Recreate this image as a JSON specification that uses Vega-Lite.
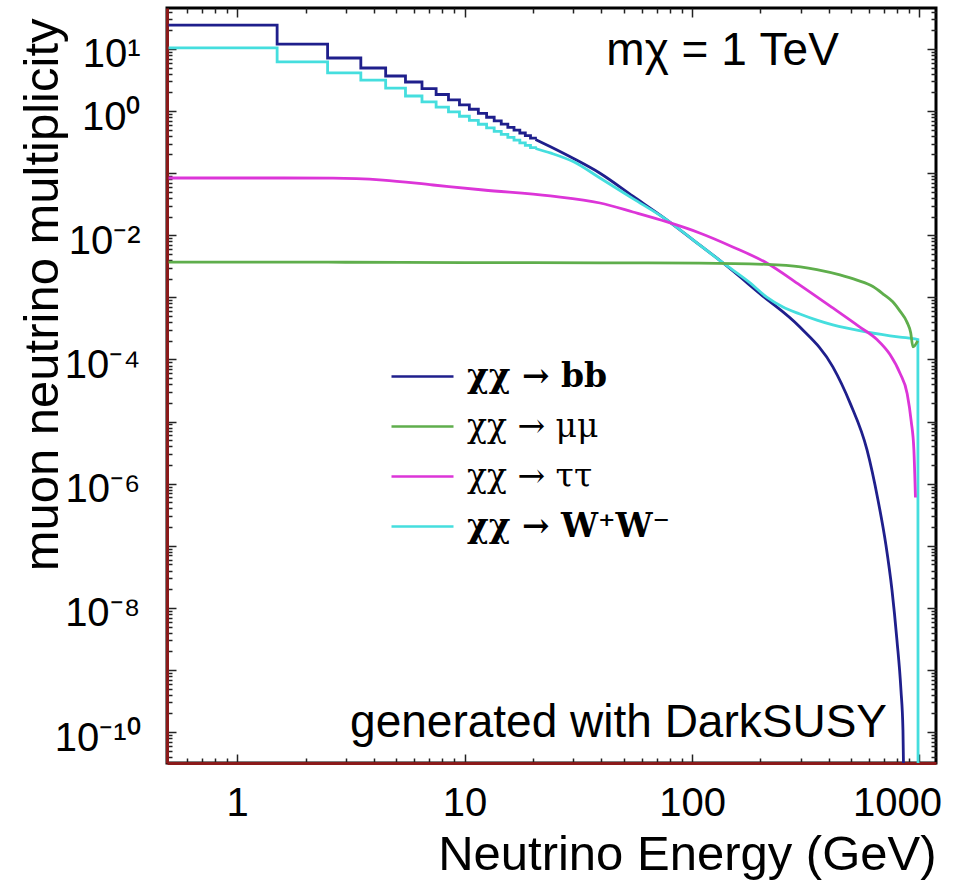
{
  "$schema": "https://vega.github.io/schema/vega-lite/v6.json",
  "width": 769,
  "height": 755,
  "autosize": "none",
  "padding": {"left": 167, "top": 8, "right": 21, "bottom": 117},
  "background": "white",
  "config": {"view": {"stroke": "#000000", "strokeWidth": 3}, "axis": {"grid": false}},
  "datasets": {
    "steps": [
      {"ch": "bb", "E": 0.5, "v": 24.3}, {"ch": "bb", "E": 1.5, "v": 12.0}, {"ch": "bb", "E": 2.5, "v": 7.16},
      {"ch": "bb", "E": 3.5, "v": 4.94}, {"ch": "bb", "E": 4.5, "v": 3.67}, {"ch": "bb", "E": 5.5, "v": 2.94},
      {"ch": "bb", "E": 6.5, "v": 2.30}, {"ch": "bb", "E": 7.5, "v": 1.85}, {"ch": "bb", "E": 8.5, "v": 1.51},
      {"ch": "bb", "E": 9.5, "v": 1.26}, {"ch": "bb", "E": 10.5, "v": 1.07}, {"ch": "bb", "E": 11.5, "v": 0.918},
      {"ch": "bb", "E": 12.5, "v": 0.796}, {"ch": "bb", "E": 13.5, "v": 0.697}, {"ch": "bb", "E": 14.5, "v": 0.615},
      {"ch": "bb", "E": 15.5, "v": 0.548}, {"ch": "bb", "E": 16.5, "v": 0.492}, {"ch": "bb", "E": 17.5, "v": 0.444},
      {"ch": "bb", "E": 18.5, "v": 0.402}, {"ch": "bb", "E": 19.5, "v": 0.366}, {"ch": "bb", "E": 20.5, "v": 0.35},
      {"ch": "WW", "E": 0.5, "v": 10.4}, {"ch": "WW", "E": 1.5, "v": 6.18}, {"ch": "WW", "E": 2.5, "v": 4.11},
      {"ch": "WW", "E": 3.5, "v": 3.16}, {"ch": "WW", "E": 4.5, "v": 2.35}, {"ch": "WW", "E": 5.5, "v": 1.75},
      {"ch": "WW", "E": 6.5, "v": 1.41}, {"ch": "WW", "E": 7.5, "v": 1.16}, {"ch": "WW", "E": 8.5, "v": 0.973},
      {"ch": "WW", "E": 9.5, "v": 0.826}, {"ch": "WW", "E": 10.5, "v": 0.71}, {"ch": "WW", "E": 11.5, "v": 0.614},
      {"ch": "WW", "E": 12.5, "v": 0.535}, {"ch": "WW", "E": 13.5, "v": 0.473}, {"ch": "WW", "E": 14.5, "v": 0.421},
      {"ch": "WW", "E": 15.5, "v": 0.377}, {"ch": "WW", "E": 16.5, "v": 0.34}, {"ch": "WW", "E": 17.5, "v": 0.308},
      {"ch": "WW", "E": 18.5, "v": 0.281}, {"ch": "WW", "E": 19.5, "v": 0.258}, {"ch": "WW", "E": 20.5, "v": 0.25}
    ],
    "curves": [
      {"ch": "bb", "E": 20.5, "v": 0.35}, {"ch": "bb", "E": 24, "v": 0.264}, {"ch": "bb", "E": 30, "v": 0.174},
      {"ch": "bb", "E": 39.4, "v": 0.1}, {"ch": "bb", "E": 55, "v": 0.0426}, {"ch": "bb", "E": 77.7, "v": 0.0176},
      {"ch": "bb", "E": 100, "v": 0.0087}, {"ch": "bb", "E": 137, "v": 0.00358}, {"ch": "bb", "E": 200, "v": 0.00113},
      {"ch": "bb", "E": 298, "v": 0.000333}, {"ch": "bb", "E": 416, "v": 0.000076}, {"ch": "bb", "E": 495, "v": 0.00002},
      {"ch": "bb", "E": 588, "v": 0.0000035}, {"ch": "bb", "E": 657, "v": 5.47e-7}, {"ch": "bb", "E": 712, "v": 1.03e-7},
      {"ch": "bb", "E": 757, "v": 1.94e-8}, {"ch": "bb", "E": 796, "v": 3.04e-9}, {"ch": "bb", "E": 829, "v": 4.76e-10},
      {"ch": "bb", "E": 846, "v": 1.08e-10}, {"ch": "bb", "E": 863, "v": 1e-12},
      {"ch": "WW", "E": 20.5, "v": 0.25}, {"ch": "WW", "E": 24, "v": 0.21}, {"ch": "WW", "E": 30, "v": 0.154},
      {"ch": "WW", "E": 39.4, "v": 0.0837}, {"ch": "WW", "E": 55, "v": 0.039}, {"ch": "WW", "E": 77.7, "v": 0.0176},
      {"ch": "WW", "E": 100, "v": 0.0087}, {"ch": "WW", "E": 137, "v": 0.00358}, {"ch": "WW", "E": 180, "v": 0.00171},
      {"ch": "WW", "E": 213, "v": 0.00101}, {"ch": "WW", "E": 251, "v": 0.0007}, {"ch": "WW", "E": 298, "v": 0.00054},
      {"ch": "WW", "E": 354, "v": 0.00043}, {"ch": "WW", "E": 416, "v": 0.00036}, {"ch": "WW", "E": 588, "v": 0.000277},
      {"ch": "WW", "E": 821, "v": 0.00023}, {"ch": "WW", "E": 956, "v": 0.000214}, {"ch": "WW", "E": 984, "v": 0.00021},
      {"ch": "WW", "E": 986, "v": 1e-12},
      {"ch": "tautau", "E": 0.5, "v": 0.0837}, {"ch": "tautau", "E": 1, "v": 0.0837}, {"ch": "tautau", "E": 2.64, "v": 0.0835},
      {"ch": "tautau", "E": 4.38, "v": 0.0776}, {"ch": "tautau", "E": 7.27, "v": 0.0645}, {"ch": "tautau", "E": 12.1, "v": 0.0536},
      {"ch": "tautau", "E": 23.8, "v": 0.043}, {"ch": "tautau", "E": 39.4, "v": 0.0331}, {"ch": "tautau", "E": 55, "v": 0.0237},
      {"ch": "tautau", "E": 77.7, "v": 0.0164}, {"ch": "tautau", "E": 108, "v": 0.0109}, {"ch": "tautau", "E": 151, "v": 0.0065},
      {"ch": "tautau", "E": 213, "v": 0.00358}, {"ch": "tautau", "E": 298, "v": 0.00158}, {"ch": "tautau", "E": 416, "v": 0.000676},
      {"ch": "tautau", "E": 547, "v": 0.000333}, {"ch": "tautau", "E": 650, "v": 0.00021}, {"ch": "tautau", "E": 742, "v": 0.00012},
      {"ch": "tautau", "E": 821, "v": 0.00006}, {"ch": "tautau", "E": 883, "v": 0.000028}, {"ch": "tautau", "E": 920, "v": 0.00001},
      {"ch": "tautau", "E": 945, "v": 0.0000035}, {"ch": "tautau", "E": 960, "v": 6e-7},
      {"ch": "mumu", "E": 0.5, "v": 0.0037}, {"ch": "mumu", "E": 3, "v": 0.00368}, {"ch": "mumu", "E": 10, "v": 0.00364},
      {"ch": "mumu", "E": 40, "v": 0.0036}, {"ch": "mumu", "E": 108, "v": 0.00357}, {"ch": "mumu", "E": 213, "v": 0.0034},
      {"ch": "mumu", "E": 300, "v": 0.0031}, {"ch": "mumu", "E": 354, "v": 0.0028}, {"ch": "mumu", "E": 447, "v": 0.0023},
      {"ch": "mumu", "E": 531, "v": 0.0019}, {"ch": "mumu", "E": 624, "v": 0.0015}, {"ch": "mumu", "E": 700, "v": 0.0011},
      {"ch": "mumu", "E": 763, "v": 0.00085}, {"ch": "mumu", "E": 821, "v": 0.0006}, {"ch": "mumu", "E": 881, "v": 0.0004},
      {"ch": "mumu", "E": 915, "v": 0.00027}, {"ch": "mumu", "E": 936, "v": 0.00016}, {"ch": "mumu", "E": 982, "v": 0.0002}
    ]
  },
  "resolve": {
    "scale": {"x": "shared", "y": "shared", "color": "shared"},
    "axis": {"x": "independent", "y": "independent"}
  },
  "layer": [
    {
      "data": {"name": "steps"},
      "mark": {"type": "line", "interpolate": "step-after", "strokeWidth": 2.8, "clip": true},
      "encoding": {
        "x": {
          "field": "E", "type": "quantitative",
          "scale": {"type": "log", "domain": [0.492, 1182], "nice": false},
          "axis": {
            "orient": "bottom",
            "values": [0.6, 0.7, 0.8, 0.9, 1, 2, 3, 4, 5, 6, 7, 8, 9, 10, 20, 30, 40, 50, 60, 70, 80, 90, 100, 200, 300, 400, 500, 600, 700, 800, 900, 1000],
            "labelExpr": "datum.value == 1 ? '1' : datum.value == 10 ? '10' : datum.value == 100 ? '100' : datum.value == 1000 ? '1000' : ''",
            "tickSize": {"condition": {"test": "datum.value == 1 || datum.value == 10 || datum.value == 100 || datum.value == 1000", "value": -9}, "value": -5},
            "tickColor": "#222222", "tickWidth": 1.5,
            "domainColor": "#8b1a1a", "domainWidth": 3,
            "labelFont": "Liberation Sans", "labelFontSize": 40, "labelColor": "#000000",
            "labelPadding": 29, "labelFlush": 20, "labelFlushOffset": 22, "labelOverlap": false, "labelBound": false,
            "title": "Neutrino Energy (GeV)", "titleFont": "Liberation Sans", "titleFontSize": 49,
            "titleFontWeight": "normal", "titleColor": "#000000", "titleAnchor": "end", "titlePadding": 3
          }
        },
        "y": {
          "field": "v", "type": "quantitative",
          "scale": {"type": "log", "domain": [3.18e-11, 45.7], "nice": false},
          "axis": {
            "orient": "left",
            "values": [4e-11, 5e-11, 6e-11, 7e-11, 8e-11, 9e-11,
              1e-10, 2e-10, 3e-10, 4e-10, 5e-10, 6e-10, 7e-10, 8e-10, 9e-10,
              1e-9, 2e-9, 3e-9, 4e-9, 5e-9, 6e-9, 7e-9, 8e-9, 9e-9,
              1e-8, 2e-8, 3e-8, 4e-8, 5e-8, 6e-8, 7e-8, 8e-8, 9e-8,
              1e-7, 2e-7, 3e-7, 4e-7, 5e-7, 6e-7, 7e-7, 8e-7, 9e-7,
              1e-6, 2e-6, 3e-6, 4e-6, 5e-6, 6e-6, 7e-6, 8e-6, 9e-6,
              1e-5, 2e-5, 3e-5, 4e-5, 5e-5, 6e-5, 7e-5, 8e-5, 9e-5,
              1e-4, 2e-4, 3e-4, 4e-4, 5e-4, 6e-4, 7e-4, 8e-4, 9e-4,
              1e-3, 2e-3, 3e-3, 4e-3, 5e-3, 6e-3, 7e-3, 8e-3, 9e-3,
              0.01, 0.02, 0.03, 0.04, 0.05, 0.06, 0.07, 0.08, 0.09,
              0.1, 0.2, 0.3, 0.4, 0.5, 0.6, 0.7, 0.8, 0.9,
              1, 2, 3, 4, 5, 6, 7, 8, 9, 10, 20, 30, 40],
            "labelExpr": "abs(log(datum.value)/LN10 - round(log(datum.value)/LN10)) > 0.01 ? '' : round(log(datum.value)/LN10) == 1 ? '10¹' : round(log(datum.value)/LN10) == 0 ? '10⁰' : round(log(datum.value)/LN10) == -2 ? '10⁻²' : round(log(datum.value)/LN10) == -4 ? '10⁻⁴' : round(log(datum.value)/LN10) == -6 ? '10⁻⁶' : round(log(datum.value)/LN10) == -8 ? '10⁻⁸' : round(log(datum.value)/LN10) == -10 ? '10⁻¹⁰' : ''",
            "tickSize": {"condition": {"test": "abs(log(datum.value)/LN10 - round(log(datum.value)/LN10)) < 0.01", "value": -9}, "value": -5},
            "tickColor": "#222222", "tickWidth": 1.5,
            "domainColor": "#8b1a1a", "domainWidth": 3,
            "labelFont": "Liberation Sans", "labelFontSize": 40, "labelColor": "#000000",
            "labelPadding": 36, "labelOffset": 6, "labelOverlap": false, "labelBound": false, "labelFlush": false,
            "title": "muon neutrino multiplicity", "titleFont": "Liberation Sans", "titleFontSize": 49,
            "titleFontWeight": "normal", "titleColor": "#000000", "titleAngle": -90, "titleAlign": "right",
            "titleBaseline": "bottom", "titleX": -100, "titleY": 10
          }
        },
        "color": {
          "field": "ch", "type": "nominal",
          "scale": {"domain": ["bb", "mumu", "tautau", "WW"], "range": ["#1f1f8c", "#5fae4c", "#dc35d8", "#45dede"]},
          "legend": {
            "orient": "none", "legendX": 223, "legendY": 336, "title": null, "padding": 0,
            "symbolType": "stroke", "symbolSize": 3844, "symbolStrokeWidth": 2.5,
            "labelFont": "DejaVu Serif", "labelFontSize": 33, "labelColor": "#000000", "labelOffset": 12,
            "labelLimit": 400, "rowPadding": -12.5,
            "labelExpr": "datum.value == 'bb' ? 'χχ → bb' : datum.value == 'mumu' ? 'χχ → μμ' : datum.value == 'tautau' ? 'χχ → ττ' : 'χχ → W⁺W⁻'",
            "encode": {"labels": {"update": {"fontWeight": {"signal": "datum.value == 'bb' || datum.value == 'WW' ? 'bold' : 'normal'"}}}}
          }
        }
      }
    },
    {
      "data": {"name": "curves"},
      "mark": {"type": "line", "interpolate": "monotone", "strokeWidth": 2.8, "clip": true},
      "encoding": {
        "x": {
          "field": "E", "type": "quantitative",
          "scale": {"type": "log", "domain": [0.492, 1182], "nice": false},
          "axis": {
            "orient": "top", "title": null, "labels": false, "domain": false,
            "values": [0.6, 0.7, 0.8, 0.9, 1, 2, 3, 4, 5, 6, 7, 8, 9, 10, 20, 30, 40, 50, 60, 70, 80, 90, 100, 200, 300, 400, 500, 600, 700, 800, 900, 1000],
            "tickSize": {"condition": {"test": "datum.value == 1 || datum.value == 10 || datum.value == 100 || datum.value == 1000", "value": -9}, "value": -5},
            "tickColor": "#222222", "tickWidth": 1.5
          }
        },
        "y": {
          "field": "v", "type": "quantitative",
          "scale": {"type": "log", "domain": [3.18e-11, 45.7], "nice": false},
          "axis": {
            "orient": "right", "title": null, "labels": false, "domain": false,
            "values": [4e-11, 5e-11, 6e-11, 7e-11, 8e-11, 9e-11,
              1e-10, 2e-10, 3e-10, 4e-10, 5e-10, 6e-10, 7e-10, 8e-10, 9e-10,
              1e-9, 2e-9, 3e-9, 4e-9, 5e-9, 6e-9, 7e-9, 8e-9, 9e-9,
              1e-8, 2e-8, 3e-8, 4e-8, 5e-8, 6e-8, 7e-8, 8e-8, 9e-8,
              1e-7, 2e-7, 3e-7, 4e-7, 5e-7, 6e-7, 7e-7, 8e-7, 9e-7,
              1e-6, 2e-6, 3e-6, 4e-6, 5e-6, 6e-6, 7e-6, 8e-6, 9e-6,
              1e-5, 2e-5, 3e-5, 4e-5, 5e-5, 6e-5, 7e-5, 8e-5, 9e-5,
              1e-4, 2e-4, 3e-4, 4e-4, 5e-4, 6e-4, 7e-4, 8e-4, 9e-4,
              1e-3, 2e-3, 3e-3, 4e-3, 5e-3, 6e-3, 7e-3, 8e-3, 9e-3,
              0.01, 0.02, 0.03, 0.04, 0.05, 0.06, 0.07, 0.08, 0.09,
              0.1, 0.2, 0.3, 0.4, 0.5, 0.6, 0.7, 0.8, 0.9,
              1, 2, 3, 4, 5, 6, 7, 8, 9, 10, 20, 30, 40],
            "tickSize": {"condition": {"test": "abs(log(datum.value)/LN10 - round(log(datum.value)/LN10)) < 0.01", "value": -9}, "value": -5},
            "tickColor": "#222222", "tickWidth": 1.5
          }
        },
        "color": {"field": "ch", "type": "nominal", "scale": {"domain": ["bb", "mumu", "tautau", "WW"], "range": ["#1f1f8c", "#5fae4c", "#dc35d8", "#45dede"]}}
      }
    },
    {
      "data": {"values": [{"note": "mχ = 1 TeV"}]},
      "mark": {"type": "text", "font": "Liberation Sans", "fontSize": 46, "align": "left", "baseline": "alphabetic", "color": "#000000"},
      "encoding": {
        "x": {"datum": 42, "type": "quantitative", "scale": {"type": "log", "domain": [0.492, 1182], "nice": false}, "axis": null},
        "y": {"datum": 5.53, "type": "quantitative", "scale": {"type": "log", "domain": [3.18e-11, 45.7], "nice": false}, "axis": null},
        "text": {"field": "note"}
      }
    },
    {
      "data": {"values": [{"note": "generated with DarkSUSY"}]},
      "mark": {"type": "text", "font": "Liberation Sans", "fontSize": 46, "align": "right", "baseline": "alphabetic", "color": "#000000"},
      "encoding": {
        "x": {"datum": 720, "type": "quantitative", "scale": {"type": "log", "domain": [0.492, 1182], "nice": false}, "axis": null},
        "y": {"datum": 8.3e-11, "type": "quantitative", "scale": {"type": "log", "domain": [3.18e-11, 45.7], "nice": false}, "axis": null},
        "text": {"field": "note"}
      }
    }
  ]
}
